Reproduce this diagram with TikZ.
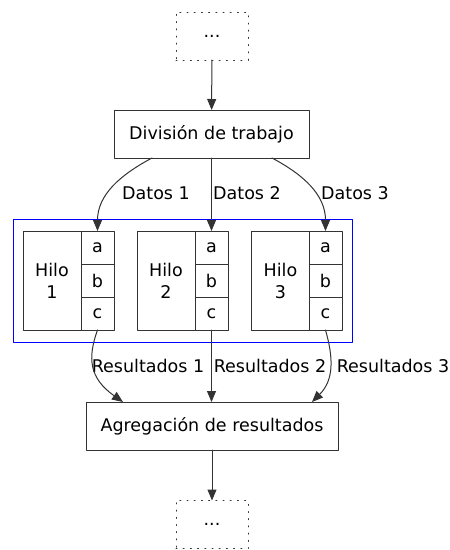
\documentclass[tikz,border=0pt]{standalone}
\usepackage{fontspec}
\setmainfont{DejaVu Sans}
\usepackage{tikz}
\usetikzlibrary{arrows.meta}

\begin{document}
\begin{tikzpicture}[line cap=round,line join=round,>={Triangle[length=11pt,width=9pt]},x=1pt,y=1pt, line width=1pt, draw=black!80,
    font=\fontsize{17.5}{22}\selectfont,
    box/.style={rectangle, draw, minimum width=#1, minimum height=48pt, inner sep=0pt, outer sep=0pt},
    dots/.style={box=72pt, dash pattern=on 1pt off 6.2pt},
    hilo/.style={rectangle, draw, minimum width=58pt, minimum height=99pt, inner sep=0pt, outer sep=0pt, align=center},
    fld/.style={rectangle, draw, minimum width=33pt, minimum height=33pt, inner sep=0pt, outer sep=0pt},
    lbl/.style={inner sep=0pt}]
                    \useasboundingbox (0,0) rectangle (450,-550);

                    \node[dots] (ini) at (212,-36) {...};
                    \node[box=195pt] (div) at (211.5,-134) {División de trabajo};

                    \draw [blue, line width=0.8pt] (13,-219) rectangle (352,-342);

                    \node[hilo] (h1) at (52,-280.5) {Hilo\\1};
                    \node[fld] (a1) at (97.5,-247.5) {a};
                    \node[fld] (b1) at (97.5,-280.5) {b};
                    \node[fld] (c1) at (97.5,-313.5) {c};

                    \node[hilo] (h2) at (166,-280.5) {Hilo\\2};
                    \node[fld] (a2) at (211.5,-247.5) {a};
                    \node[fld] (b2) at (211.5,-280.5) {b};
                    \node[fld] (c2) at (211.5,-313.5) {c};

                    \node[hilo] (h3) at (280.5,-280.5) {Hilo\\3};
                    \node[fld] (a3) at (325.5,-247.5) {a};
                    \node[fld] (b3) at (325.5,-280.5) {b};
                    \node[fld] (c3) at (325.5,-313.5) {c};

                    \node[box=252pt] (agg) at (212,-426) {Agregación de resultados};
                    \node[dots] (fin) at (212,-524.5) {...};

                    \node[lbl] (d1) at (156,-193) {Datos 1};
                    \node[lbl] (d2) at (247,-193) {Datos 2};
                    \node[lbl] (d3) at (355,-193) {Datos 3};
                    \node[lbl] (r1) at (148,-366) {Resultados 1};
                    \node[lbl] (r2) at (270,-366) {Resultados 2};
                    \node[lbl] (r3) at (393,-366) {Resultados 3};

                    \draw [->] (ini) -- (div);
                    \draw [->] ([xshift=-59.5pt]div.south) .. controls +(-32,-17) and +(0,36) .. (a1.north);
                    \draw [->] (div.south) -- (a2.north);
                    \draw [->] ([xshift=60.5pt]div.south) .. controls +(32,-17) and +(0,36) .. (a3.north);

                    \draw [->] (c1.south) .. controls +(-10,-28) and +(-34,24) .. ([xshift=-89pt]agg.north);
                    \draw [->] (c2.south) -- (agg.north -| c2.south);
                    \draw [->] (c3.south) .. controls +(8,-28) and +(22,22) .. ([xshift=100pt]agg.north);
                    \draw [->] (agg) -- (fin);
                \end{tikzpicture}
\end{document}
